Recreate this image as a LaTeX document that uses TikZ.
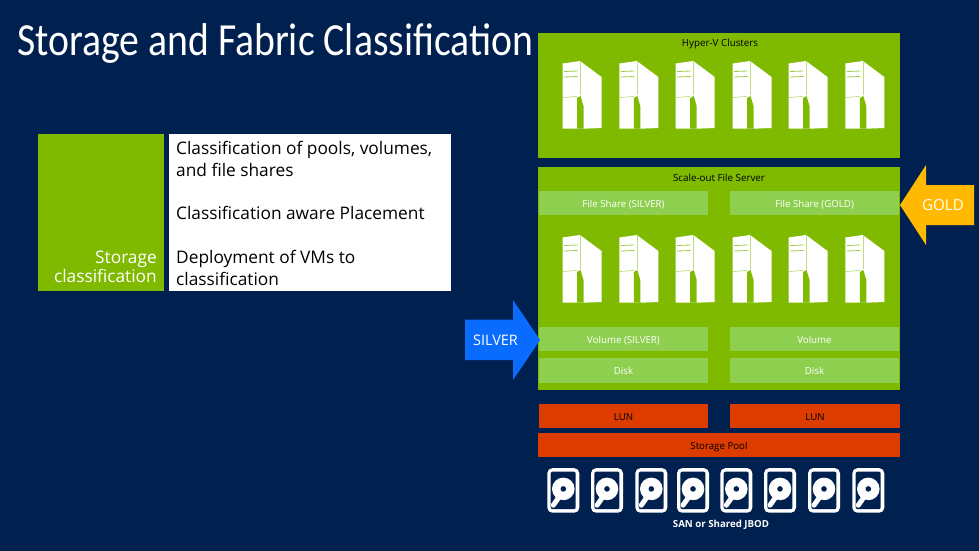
\documentclass[tikz,border=0pt]{standalone}
\usepackage{fontspec}
\setmainfont{Open Sans}
\newfontfamily\titlefont[FakeStretch=0.863]{Carlito}
\definecolor{bgblue}{HTML}{002050}
\definecolor{msgreen}{HTML}{7FBA00}
\definecolor{lightgreen}{HTML}{8FCF4F}
\definecolor{lunorange}{HTML}{DC3C00}
\definecolor{arrowblue}{HTML}{0A6CFF}
\definecolor{arrowgold}{HTML}{FFB900}
\tikzset{
  panel/.style={fill=msgreen,draw=none},
  share/.style={fill=lightgreen,draw=none,minimum height=24pt,minimum width=169pt,inner sep=0,text height=9pt,text depth=1pt,text=white,font=\fontsize{9.7}{12}\selectfont},
  lunbox/.style={fill=lunorange,draw=none,minimum height=24pt,inner sep=0,text height=9pt,text depth=1pt,text=black,font=\fontsize{9.7}{12}\selectfont},
  caption/.style={inner sep=0,text=black,font=\fontsize{9.8}{12}\selectfont},
  bullet/.style={inner sep=0,anchor=base west,text=black,font=\fontsize{17.3}{20}\selectfont},
  server/.pic={
    \fill[white] (0,2.5)--(17.5,0)--(39,16)--(39,67)--(21,67.7)--(0,67.7)--cycle;
    \fill[msgreen] (14.5,37)--(18,35)--(21,45)--(21,67.7)--(14.5,67.7)--cycle;
    \draw[msgreen!70!white,line width=.5pt] (0,36.5)--(14.5,35.5);
    \draw[msgreen!50!white,line width=.4pt] (17.5,0)--(17.5,34);
    \draw[msgreen!75!white,line width=.8pt] (1.5,10.5)--(15,10) (1.5,16)--(15,15.5);
  },
  diskicon/.pic={
    \fill[white,rounded corners=5pt] (0,0) rectangle (32,44.5);
    \fill[bgblue,rounded corners=2pt] (3.4,3.4) rectangle (28.4,41);
    \fill[white] (16,20.7) circle (11.3);
    \draw[white,line width=5pt,line cap=round] (13,27)--(6,37);
    \fill[bgblue] (16,20.7) circle (2.8);
    \draw[bgblue,line width=.7pt] (15,31.5)--(10,38.5);
  }
}
\begin{document}
\begin{tikzpicture}[x=1pt,y=-1pt]
\useasboundingbox (0,0) rectangle (979,551);
\fill[bgblue] (0,0) rectangle (979,551);

\node[inner sep=0,anchor=base west,text=white,font=\titlefont\fontsize{46}{50}\selectfont] (title) at (17,56) {Storage and Fabric Classification};

% left block
\fill[panel] (38,134) rectangle (164,291);
\fill[white] (169,134) rectangle (451,291);
\node[inner sep=0,anchor=base east,align=right,text=white,font=\fontsize{17.3}{19}\selectfont] (storage) at (157,263) {Storage};
\node[inner sep=0,anchor=base east,align=right,text=white,font=\fontsize{17.3}{19}\selectfont] (classif) at (157,282) {classification};
\node[bullet] (b1a) at (176,154) {Classification of pools, volumes,};
\node[bullet] (b1b) at (176,176) {and file shares};
\node[bullet] (b2) at (176,219) {Classification aware Placement};
\node[bullet] (b3a) at (176,263) {Deployment of VMs to};
\node[bullet] (b3b) at (176,285) {classification};

% Hyper-V
\fill[panel] (538,33) rectangle (900,158);
\node[caption] (hv) at (720,44) {Hyper-V Clusters};
\foreach \x in {562.5,619.3,675.7,732.5,788.5,845.3} \pic at (\x,61) {server};

% SOFS
\fill[panel] (538,167) rectangle (900,390);
\node[caption] (sofs) at (719,178) {Scale-out File Server};
\node[share] (fss) at (623.5,203) {File Share (SILVER)};
\node[share] (fsg) at (814.5,203) {File Share (GOLD)};
\foreach \x in {562.5,619.3,675.7,732.5,788.5,845.3} \pic at (\x,235) {server};
\node[share] (vs) at (623.5,339) {Volume (SILVER)};
\node[share] (vg) at (814.5,339) {Volume};
\node[share,minimum height=25pt] (d1) at (623.5,370.5) {Disk};
\node[share,minimum height=25pt] (d2) at (814.5,370.5) {Disk};

% LUNs
\node[lunbox,minimum width=169pt] (l1) at (623.5,416) {LUN};
\node[lunbox,minimum width=170pt] (l2) at (815,416) {LUN};
\node[lunbox,minimum width=362pt] (pool) at (719,445) {Storage Pool};

% Disks
\foreach \x in {547.3,591,635.3,677,720.3,764,808,852.3} \pic at (\x,468.2) {diskicon};
\node[inner sep=0,text=white,font=\bfseries\fontsize{9.7}{12}\selectfont] (san) at (721,525) {SAN or Shared JBOD};

% Arrows
\fill[arrowblue] (465,319.5)--(513,319.5)--(513,300)--(540,340)--(513,380)--(513,360)--(465,360)--cycle;
\node[inner sep=0,text=white,font=\fontsize{14.5}{16}\selectfont] (silver) at (495.5,340) {SILVER};
\fill[arrowgold] (974,185)--(926,185)--(926,165)--(900,205)--(926,245)--(926,225)--(974,225)--cycle;
\node[inner sep=0,text=white,font=\fontsize{15.2}{16}\selectfont] (gold) at (943,205.5) {GOLD};
\end{tikzpicture}
\end{document}
